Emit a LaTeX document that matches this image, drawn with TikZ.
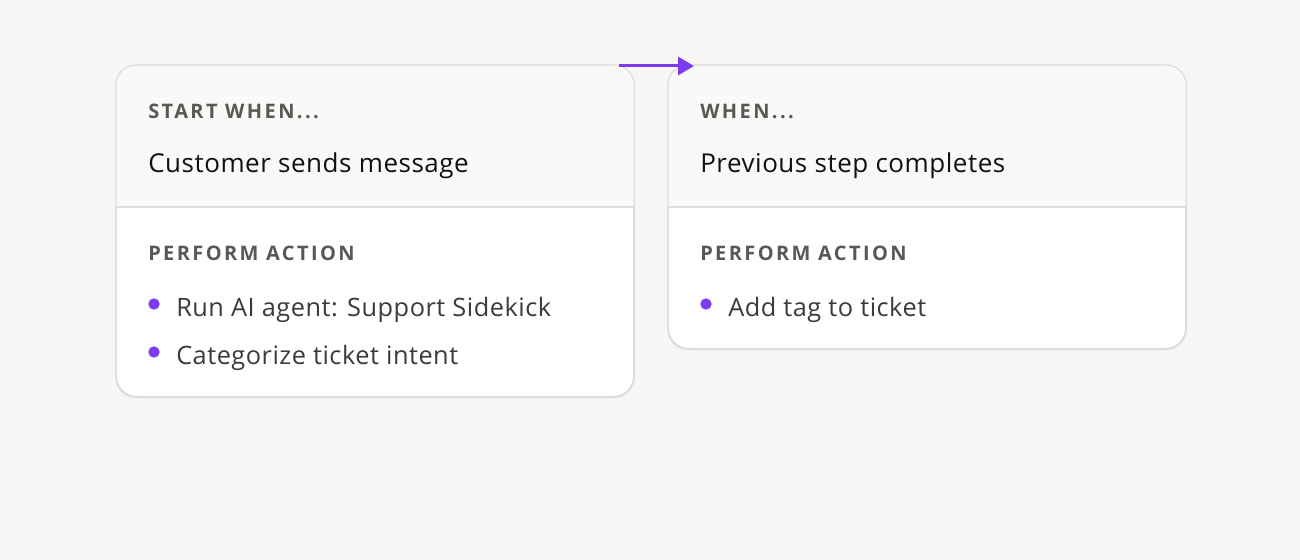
\documentclass[tikz,border=0pt]{standalone}
\usepackage{fontspec}
\setmainfont{Open Sans}
\newfontfamily\capsfont[LetterSpace=12]{Open Sans}
\newfontfamily\bodyfont[LetterSpace=2]{Open Sans}
\usepackage{xcolor}
\usepackage{tikz}
\usetikzlibrary{positioning,shapes,shadows,arrows.meta,calc}
\definecolor{pagebg}{HTML}{F7F6F4}
\definecolor{headbg}{HTML}{F9F9F8}
\definecolor{cardline}{HTML}{DCDCDA}
\definecolor{capgray}{HTML}{5B5754}
\definecolor{titleink}{HTML}{111111}
\definecolor{itemink}{HTML}{3B3B3B}
\definecolor{violet}{HTML}{7C3AED}
\tikzstyle{card}=[rectangle, draw=cardline, line width=0.9pt, rounded corners=15pt, fill=white,
        drop shadow={shadow xshift=0pt, shadow yshift=-1.5pt, opacity=0.07},
        anchor=north west, minimum width=387.75pt, inner sep=0pt]
\tikzstyle{caption}=[anchor=base west, inner sep=0pt, text=capgray,
        font=\capsfont\bfseries\fontsize{15}{17}\selectfont]
\tikzstyle{title}=[anchor=base west, inner sep=0pt, text=titleink,
        font=\bodyfont\fontsize{19.5}{23}\selectfont]
\tikzstyle{item}=[anchor=base west, inner sep=0pt, text=itemink,
        font=\bodyfont\fontsize{19}{23}\selectfont]
\tikzstyle{dot}=[circle, fill=violet, inner sep=0pt, minimum size=8.5pt]
\tikzstyle{flow}=[draw=violet, line width=2.25pt, -{Triangle[length=12pt,width=13.5pt]}]

\begin{document}
\begin{tikzpicture}[x=0.75pt, y=-0.75pt]
        \fill[pagebg] (0,0) rectangle (1300,560);
        \useasboundingbox (0,0) rectangle (1300,560);

        % the two cards
        \node (card1) [card, minimum height=248.25pt] at (116,65) {};
        \node (card2) [card, minimum height=212.25pt] at (668,65) {};

        % header areas
        \foreach \c in {card1,card2} {
          \begin{scope}
            \clip[rounded corners=15pt] (\c.north west) rectangle (\c.south east);
            \fill[headbg] (\c.north west) rectangle ($(\c.north east)+(0,142)$);
          \end{scope}
          \draw[cardline, line width=0.9pt] ($(\c.north west)+(0,142)$) -- ($(\c.north east)+(0,142)$);
          \draw[cardline, line width=0.9pt, rounded corners=15pt] (\c.north west) rectangle (\c.south east);
        }

        % first card
        \node (start) [caption] at (148,118) {START WHEN...};
        \node (trigger) [title] at (148,172) {Customer sends message};
        \node (act1) [caption] at (148,260) {PERFORM ACTION};
        \node (dotA) [dot] at (154,304) {};
        \node (runagent) [item] at (176,316) {Run AI agent: Support Sidekick};
        \node (dotB) [dot] at (154,352) {};
        \node (intent) [item] at (176,364) {Categorize ticket intent};

        % second card
        \node (when) [caption] at (700,118) {WHEN...};
        \node (prevstep) [title] at (700,172) {Previous step completes};
        \node (act2) [caption] at (700,260) {PERFORM ACTION};
        \node (dotC) [dot] at (706,304) {};
        \node (addtag) [item] at (728,316) {Add tag to ticket};

        % link between the cards
        \draw[flow] ($(card1.north east)+(-15,1)$) -- ($(card2.north west)+(26,1)$);
\end{tikzpicture}
\end{document}
